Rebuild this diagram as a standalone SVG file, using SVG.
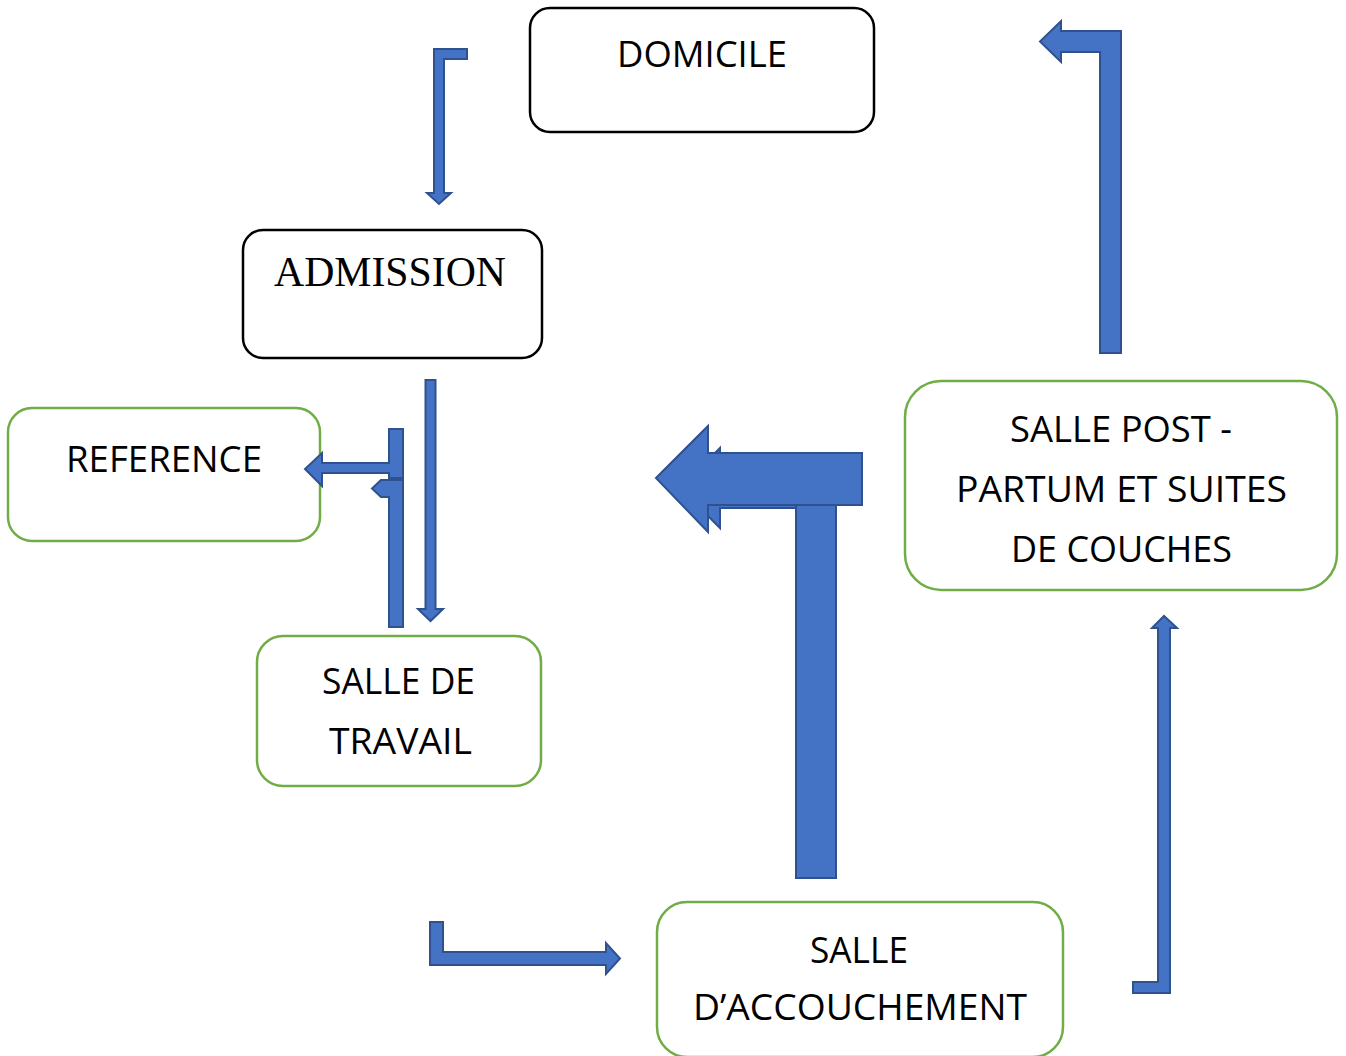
<svg xmlns="http://www.w3.org/2000/svg" width="1346" height="1056" viewBox="0 0 1346 1056">
<style>
.bk{fill:#fff;stroke:#000;stroke-width:2.5}
.gr{fill:#fff;stroke:#70AD47;stroke-width:2.5}
.t{font-family:"Open Sans","Liberation Sans",sans-serif;font-size:37px;fill:#000}
.ts{font-family:"Liberation Serif","Times New Roman",serif;font-size:42px;fill:#000}
.ar{fill:#4472C4;stroke:#2F528F;stroke-width:2;stroke-linejoin:miter}
</style>
<rect width="1346" height="1056" fill="#fff"/>
<g id="domicile">
<rect class="bk" x="530" y="8" width="344" height="124" rx="20"/>
<text class="t" x="617" y="67" textLength="170" lengthAdjust="spacingAndGlyphs">DOMICILE</text>
</g>
<g id="admission">
<rect class="bk" x="243" y="230" width="299" height="128" rx="20"/>
<text class="ts" x="274" y="286" textLength="232" lengthAdjust="spacingAndGlyphs">ADMISSION</text>
</g>
<g id="reference">
<rect class="gr" x="8" y="408" width="312" height="133" rx="24"/>
<text class="t" x="66" y="472" textLength="196" lengthAdjust="spacingAndGlyphs">REFERENCE</text>
</g>
<g id="salle-travail">
<rect class="gr" x="257" y="636" width="284" height="150" rx="26"/>
<text class="t" x="322" y="694" textLength="153" lengthAdjust="spacingAndGlyphs">SALLE DE</text>
<text class="t" x="329" y="754" textLength="143" lengthAdjust="spacingAndGlyphs">TRAVAIL</text>
</g>
<g id="salle-accouchement">
<rect class="gr" x="657" y="902" width="406" height="155" rx="30"/>
<text class="t" x="810" y="963" textLength="98" lengthAdjust="spacingAndGlyphs">SALLE</text>
<text class="t" x="693" y="1020" textLength="334" lengthAdjust="spacingAndGlyphs">D’ACCOUCHEMENT</text>
</g>
<g id="salle-post-partum">
<rect class="gr" x="905" y="381" width="432" height="209" rx="36"/>
<text class="t" x="1010" y="442" textLength="222" lengthAdjust="spacingAndGlyphs">SALLE POST -</text>
<text class="t" x="956" y="502" textLength="331" lengthAdjust="spacingAndGlyphs">PARTUM ET SUITES</text>
<text class="t" x="1011" y="562" textLength="221" lengthAdjust="spacingAndGlyphs">DE COUCHES</text>
</g>
<g id="connectors">
<path class="ar" d="M434,49 L467,49 L467,59 L444,59 L444,193 L451,193 L439,204 L427,193 L434,193 Z"/>
<path class="ar" d="M425.5,380 L435.5,380 L435.5,609 L443,609 L430.5,621 L418,609 L425.5,609 Z"/>
<path class="ar" d="M389,429 L403,429 L403,478 L389,478 L389,473 L322,473 L322,486 L305,469 L322,453 L322,463 L389,463 Z"/>
<path class="ar" d="M403,480 L403,627 L389,627 L389,497 L381,497 L372,488.5 L381,480 Z"/>
<path class="ar" d="M836,878 L796,878 L796,508 L720,508 L720,528 L680,488 L720,448 L720,468 L836,468 Z"/>
<path class="ar" d="M656,478 L708,426 L708,453 L862,453 L862,505 L708,505 L708,532 Z"/>
<rect class="ar" x="796" y="505" width="40" height="373" stroke="none"/>
<path d="M796,505 L796,878 L836,878 L836,505" fill="none" stroke="#2F528F" stroke-width="2"/>
<path class="ar" d="M1100,353 L1121,353 L1121,31 L1061,31 L1061,21 L1040,41.5 L1061,62 L1061,52 L1100,52 Z"/>
<path class="ar" d="M430,922 L443,922 L443,952 L606,952 L606,943 L620,958.5 L606,974 L606,965 L430,965 Z"/>
<path class="ar" d="M1133,982 L1158,982 L1158,628 L1152,628 L1164,616 L1177,628 L1170,628 L1170,993 L1133,993 Z"/>
</g>
</svg>
